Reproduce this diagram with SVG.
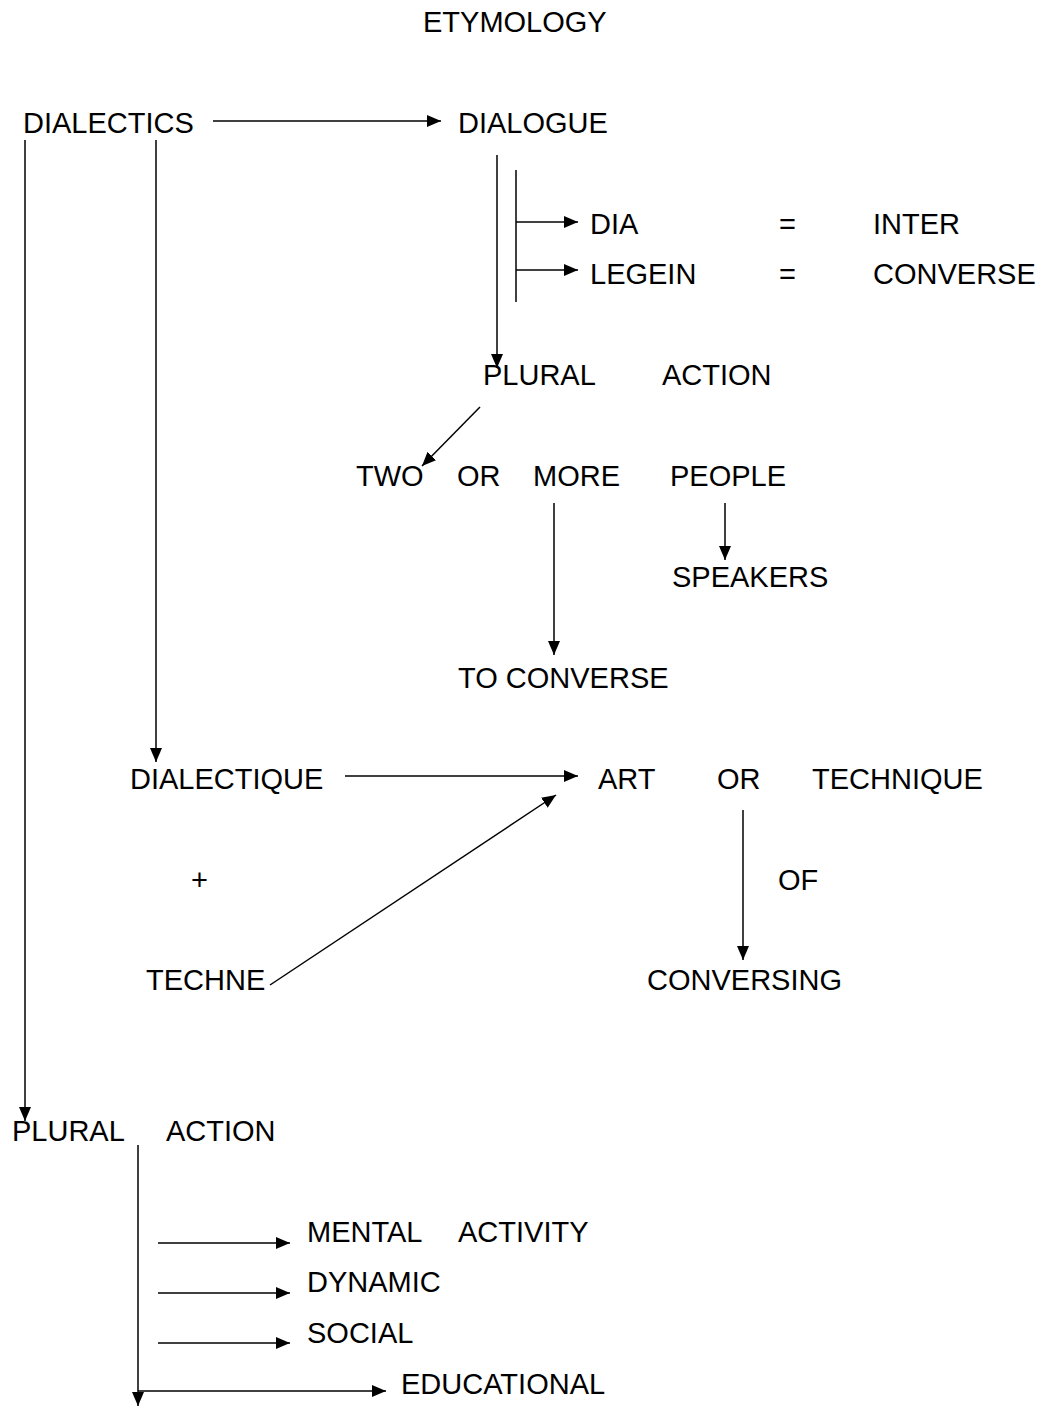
<svg xmlns="http://www.w3.org/2000/svg" width="1043" height="1408" viewBox="0 0 1043 1408">
<defs>
<marker id="ah" markerWidth="15" markerHeight="13" refX="14" refY="6" orient="auto" markerUnits="userSpaceOnUse">
<path d="M0,0 L14,6 L0,12 Z" fill="#000"/>
</marker>
<style>
text{font-family:"Liberation Sans",Arial,sans-serif;font-size:29px;fill:#000}
.c line,.c path{stroke:#000;stroke-width:1.5;fill:none}
.a{marker-end:url(#ah)}
</style>
</defs>
<rect width="1043" height="1408" fill="#fff"/>
<g id="etymology"><text x="423" y="32">ETYMOLOGY</text></g>
<g id="dialectics"><text x="23" y="133">DIALECTICS</text></g>
<g id="dialogue"><text x="458" y="133">DIALOGUE</text></g>
<g id="dia"><text x="590" y="234">DIA</text><text x="779" y="234">=</text><text x="873" y="234">INTER</text></g>
<g id="legein"><text x="590" y="284">LEGEIN</text><text x="779" y="284">=</text><text x="873" y="284">CONVERSE</text></g>
<g id="plural-action-1"><text x="483" y="385">PLURAL</text><text x="662" y="385">ACTION</text></g>
<g id="two-or-more-people"><text x="356" y="486">TWO</text><text x="457" y="486">OR</text><text x="533" y="486">MORE</text><text x="670" y="486">PEOPLE</text></g>
<g id="speakers"><text x="672" y="587">SPEAKERS</text></g>
<g id="to-converse"><text x="458" y="688">TO CONVERSE</text></g>
<g id="dialectique"><text x="130" y="789">DIALECTIQUE</text></g>
<g id="art-or-technique"><text x="598" y="789">ART</text><text x="717" y="789">OR</text><text x="812" y="789">TECHNIQUE</text></g>
<g id="plus"><text x="191" y="890">+</text></g>
<g id="of"><text x="778" y="890">OF</text></g>
<g id="techne"><text x="146" y="990">TECHNE</text></g>
<g id="conversing"><text x="647" y="990">CONVERSING</text></g>
<g id="plural-action-2"><text x="12" y="1141">PLURAL</text><text x="166" y="1141">ACTION</text></g>
<g id="mental-activity"><text x="307" y="1242">MENTAL</text><text x="458" y="1242">ACTIVITY</text></g>
<g id="dynamic"><text x="307" y="1292">DYNAMIC</text></g>
<g id="social"><text x="307" y="1343">SOCIAL</text></g>
<g id="educational"><text x="401" y="1394">EDUCATIONAL</text></g>
<g id="connectors" class="c">
<line class="a" x1="213" y1="121" x2="441" y2="121"/>
<line class="a" x1="25" y1="140" x2="25" y2="1121"/>
<line class="a" x1="156" y1="140" x2="156" y2="762"/>
<line class="a" x1="497" y1="155" x2="497" y2="368"/>
<line x1="516" y1="170" x2="516" y2="302"/>
<line class="a" x1="516" y1="222" x2="578" y2="222"/>
<line class="a" x1="516" y1="270" x2="578" y2="270"/>
<line class="a" x1="480" y1="407" x2="422" y2="466"/>
<line class="a" x1="554" y1="503" x2="554" y2="655"/>
<line class="a" x1="725" y1="503" x2="725" y2="560"/>
<line class="a" x1="345" y1="776" x2="578" y2="776"/>
<line class="a" x1="270" y1="985" x2="556" y2="795"/>
<line class="a" x1="743" y1="810" x2="743" y2="960"/>
<line class="a" x1="138" y1="1145" x2="138" y2="1406"/>
<line class="a" x1="158" y1="1243" x2="290" y2="1243"/>
<line class="a" x1="158" y1="1293" x2="290" y2="1293"/>
<line class="a" x1="158" y1="1343" x2="290" y2="1343"/>
<line class="a" x1="138" y1="1391" x2="386" y2="1391"/>
</g>
</svg>
